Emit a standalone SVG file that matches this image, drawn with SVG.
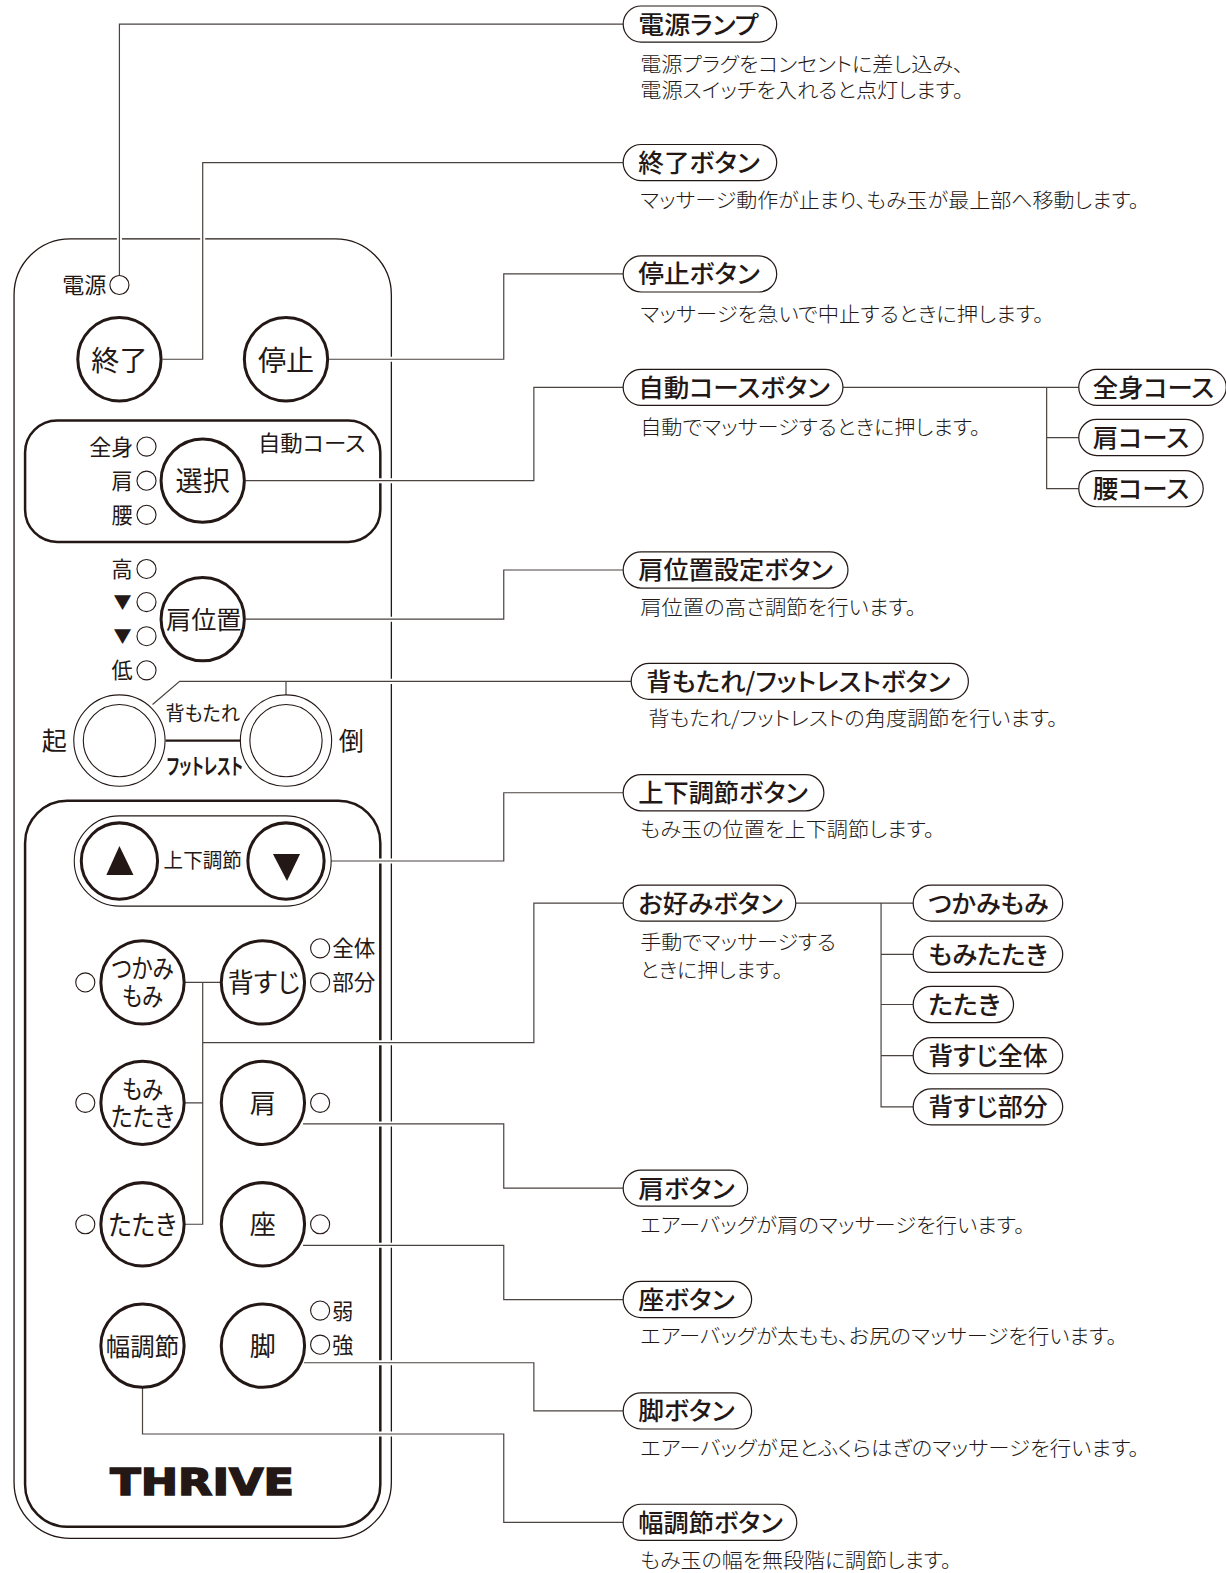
<svg xmlns="http://www.w3.org/2000/svg" width="1226" height="1573" viewBox="0 0 1226 1573">
<style>
text{font-family:"Noto Sans CJK JP","Noto Sans",sans-serif;fill:#231815;dominant-baseline:central;font-feature-settings:"palt";transform:translateY(-1px)}
.m{text-anchor:middle}
.p{font-size:25px;font-weight:500;transform:translateY(-1.5px)}
.d{font-size:20px;font-weight:300}
.s{font-size:21px}
.b{font-size:28px;text-anchor:middle}
.t{font-size:18px;text-anchor:middle}
.c{fill:none;stroke:#4a4340;stroke-width:1.2}
.gap{fill:none;stroke:#fff;stroke-width:5}
.pill{fill:#fff;stroke:#231815;stroke-width:1.2}
.btn{fill:#fff;stroke:#231815;stroke-width:3}
.led{fill:#fff;stroke:#231815;stroke-width:1.1}
.ring{fill:#fff;stroke:#231815;stroke-width:1.1}
.panel{fill:none;stroke:#231815;stroke-width:2.5}
</style>
<g transform="scale(1.0035)">
<g id="remote-body">
<rect x="14" y="238" width="376" height="1295" rx="56" fill="#fff" stroke="#231815" stroke-width="1.3"/>
<rect class="panel" x="25" y="419" width="354" height="121" rx="32"/>
<rect class="panel" x="25" y="798" width="354" height="723.5" rx="42"/>
</g>
<g id="connectors">
<path class="gap" d="M375 479H394M386 358H394M386 617H394M386 679H394M375 858H394M375 1039H394M375 1120H394M375 1241H394M375 1358H394M375 1429H394M119 234V242M202 234V242"/>
<path class="c" d="M119 274V24H621"/>
<path class="c" d="M162 358H202V162H621"/>
<path class="c" d="M328 358H502V273H621"/>
<path class="c" d="M245 479H532V386H621"/>
<path class="c" d="M840 386H1075M1043 386V487H1075M1043 436H1075"/>
<path class="c" d="M245 617H502V568H621"/>
<path class="c" d="M152 702L179 679H629M285 679V693"/>
<path class="c" d="M330 858H502V790H621"/>
<path class="c" d="M184 979H220M202 979V1220H184M184 1099H202M202 1039H532V900H621"/>
<path class="c" d="M793 900H910M878 900V1103H910M878 951H910M878 1001H910M878 1052H910"/>
<path class="c" d="M302 1120H502V1184H621"/>
<path class="c" d="M302 1241H502V1295H621"/>
<path class="c" d="M303 1358H532V1406H621"/>
<path class="c" d="M142 1383V1429H502V1517H621"/>
</g>
<g id="led-power"><text class="s" x="62" y="284" textLength="44" lengthAdjust="spacingAndGlyphs">電源</text><circle class="led" cx="119" cy="284" r="9.5"/></g>
<g id="btn-end"><circle class="btn" cx="119" cy="358" r="41.5"/><text class="b" x="119" y="358" style="font-size:28px">終了</text></g>
<g id="btn-stop"><circle class="btn" cx="285" cy="358" r="41.5"/><text class="b" x="285" y="358" style="font-size:28px">停止</text></g>
<g id="course-select">
<text class="s" x="257" y="441" textLength="107" lengthAdjust="spacingAndGlyphs">自動コース</text>
<text class="s" x="89" y="445" textLength="44" lengthAdjust="spacingAndGlyphs">全身</text><circle class="led" cx="146" cy="445" r="9.5"/>
<text class="s" x="111" y="479">肩</text><circle class="led" cx="146" cy="479" r="9.5"/>
<text class="s" x="111" y="513">腰</text><circle class="led" cx="146" cy="513" r="9.5"/>
<circle class="btn" cx="202" cy="479" r="41.5"/><text class="b" x="202" y="479" style="font-size:27px">選択</text>
</g>
<g id="shoulder-pos">
<text class="s" x="111" y="567">高</text><circle class="led" cx="146" cy="567" r="9.5"/>
<text class="t" x="122" y="600">▼</text><circle class="led" cx="146" cy="600" r="9.5"/>
<text class="t" x="122" y="634">▼</text><circle class="led" cx="146" cy="634" r="9.5"/>
<text class="s" x="111" y="668">低</text><circle class="led" cx="146" cy="668" r="9.5"/>
<circle class="btn" cx="202" cy="617" r="41.5"/><text class="b" x="203" y="617" style="font-size:25px">肩位置</text>
</g>
<g id="recline">
<text class="b" x="54" y="737" style="font-size:25px">起</text>
<text class="b" x="350" y="737" style="font-size:25px">倒</text>
<circle class="ring" cx="119" cy="738" r="45.5"/><circle class="ring" cx="119" cy="738" r="36"/>
<circle class="ring" cx="285" cy="738" r="45.5"/><circle class="ring" cx="285" cy="738" r="36"/>
<path d="M165 738H240" stroke="#231815" stroke-width="2.2" fill="none"/>
<text class="m" x="202" y="711" style="font-size:20px" textLength="74" lengthAdjust="spacingAndGlyphs">背もたれ</text>
<text class="m" x="204" y="762" style="font-size:22px;font-weight:700" textLength="76" lengthAdjust="spacingAndGlyphs">フットレスト</text>
</g>
<g id="updown">
<rect class="ring" x="74" y="813" width="256" height="90" rx="45"/>
<circle cx="119" cy="858" r="38" fill="#fff" stroke="#231815" stroke-width="3"/>
<circle cx="285" cy="858" r="38" fill="#fff" stroke="#231815" stroke-width="3"/>
<path d="M119 843L133 872H106Z" fill="#231815"/>
<path d="M272 851H299L286 878Z" fill="#231815"/>
<text class="m" x="202" y="858" style="font-size:20px" textLength="78" lengthAdjust="spacingAndGlyphs">上下調節</text>
</g>
<g id="btn-tsukami"><circle class="led" cx="85" cy="979" r="9.5"/><circle class="btn" cx="142" cy="979" r="41.5"/><text class="b" style="font-size:26px"><tspan x="142" y="965" textLength="62" lengthAdjust="spacingAndGlyphs">つかみ</tspan><tspan x="142" y="993" textLength="41" lengthAdjust="spacingAndGlyphs">もみ</tspan></text></g>
<g id="btn-senaka"><circle class="btn" cx="262" cy="979" r="41.5"/><text class="b" x="263" y="979" style="font-size:26px" textLength="72" lengthAdjust="spacingAndGlyphs">背すじ</text><circle class="led" cx="319" cy="945" r="9.5"/><circle class="led" cx="319" cy="979" r="9.5"/><text class="s" x="331" y="945" textLength="43" lengthAdjust="spacingAndGlyphs">全体</text><text class="s" x="331" y="979" textLength="43" lengthAdjust="spacingAndGlyphs">部分</text></g>
<g id="btn-momi"><circle class="led" cx="85" cy="1099" r="9.5"/><circle class="btn" cx="142" cy="1099" r="41.5"/><text class="b" style="font-size:26px"><tspan x="142" y="1085" textLength="41" lengthAdjust="spacingAndGlyphs">もみ</tspan><tspan x="142" y="1112" textLength="63" lengthAdjust="spacingAndGlyphs">たたき</tspan></text></g>
<g id="btn-kata"><circle class="btn" cx="262" cy="1099" r="41.5"/><text class="b" x="262" y="1099" style="font-size:26px">肩</text><circle class="led" cx="319" cy="1099" r="9.5"/></g>
<g id="btn-tataki"><circle class="led" cx="85" cy="1220" r="9.5"/><circle class="btn" cx="142" cy="1220" r="41.5"/><text class="b" x="142" y="1220" style="font-size:27px" textLength="68" lengthAdjust="spacingAndGlyphs">たたき</text></g>
<g id="btn-za"><circle class="btn" cx="262" cy="1220" r="41.5"/><text class="b" x="262" y="1220" style="font-size:26px">座</text><circle class="led" cx="319" cy="1220" r="9.5"/></g>
<g id="btn-haba"><circle class="btn" cx="142" cy="1341" r="41.5"/><text class="b" x="142" y="1341" style="font-size:25px" textLength="73" lengthAdjust="spacingAndGlyphs">幅調節</text></g>
<g id="btn-kyaku"><circle class="btn" cx="262" cy="1341" r="41.5"/><text class="b" x="262" y="1341" style="font-size:26px">脚</text><circle class="led" cx="319" cy="1306" r="9.5"/><circle class="led" cx="319" cy="1340" r="9.5"/><text class="s" x="331" y="1306">弱</text><text class="s" x="331" y="1340">強</text></g>
<g id="brand"><text x="110" y="1478" style="font-family:'DejaVu Sans',sans-serif;font-size:37px;font-weight:700;stroke:#231815;stroke-width:1.6" textLength="183" lengthAdjust="spacingAndGlyphs">THRIVE</text></g>
<g id="n1"><rect class="pill" x="621" y="6" width="153" height="36" rx="18"/><text class="p" x="636" y="24" textLength="120" lengthAdjust="spacingAndGlyphs">電源ランプ</text><text class="d" x="638" y="64" textLength="322" lengthAdjust="spacingAndGlyphs">電源プラグをコンセントに差し込み、</text><text class="d" x="638" y="90" textLength="322" lengthAdjust="spacingAndGlyphs">電源スイッチを入れると点灯します。</text></g>
<g id="n2"><rect class="pill" x="621" y="144" width="153" height="36" rx="18"/><text class="p" x="636" y="162" textLength="121" lengthAdjust="spacingAndGlyphs">終了ボタン</text><text class="d" x="638" y="200" textLength="497" lengthAdjust="spacingAndGlyphs">マッサージ動作が止まり、もみ玉が最上部へ移動します。</text></g>
<g id="n3"><rect class="pill" x="621" y="255" width="153" height="36" rx="18"/><text class="p" x="636" y="273" textLength="121" lengthAdjust="spacingAndGlyphs">停止ボタン</text><text class="d" x="638" y="313" textLength="402" lengthAdjust="spacingAndGlyphs">マッサージを急いで中止するときに押します。</text></g>
<g id="n4"><rect class="pill" x="621" y="368" width="219" height="36" rx="18"/><text class="p" x="636" y="386" textLength="191" lengthAdjust="spacingAndGlyphs">自動コースボタン</text><text class="d" x="638" y="426" textLength="339" lengthAdjust="spacingAndGlyphs">自動でマッサージするときに押します。</text></g>
<g id="n4a"><rect class="pill" x="1075" y="368" width="147" height="36" rx="18"/><text class="p" x="1089" y="386" textLength="121" lengthAdjust="spacingAndGlyphs">全身コース</text></g>
<g id="n4b"><rect class="pill" x="1075" y="418" width="124" height="36" rx="18"/><text class="p" x="1089" y="436" textLength="96" lengthAdjust="spacingAndGlyphs">肩コース</text></g>
<g id="n4c"><rect class="pill" x="1075" y="469" width="124" height="36" rx="18"/><text class="p" x="1089" y="487" textLength="96" lengthAdjust="spacingAndGlyphs">腰コース</text></g>
<g id="n5"><rect class="pill" x="621" y="550" width="224" height="36" rx="18"/><text class="p" x="636" y="568" textLength="194" lengthAdjust="spacingAndGlyphs">肩位置設定ボタン</text><text class="d" x="638" y="605" textLength="275" lengthAdjust="spacingAndGlyphs">肩位置の高さ調節を行います。</text></g>
<g id="n6"><rect class="pill" x="629" y="661" width="336" height="36" rx="18"/><text class="p" x="644" y="679" textLength="303" lengthAdjust="spacingAndGlyphs">背もたれ/フットレストボタン</text><text class="d" x="646" y="716" textLength="408" lengthAdjust="spacingAndGlyphs">背もたれ/フットレストの角度調節を行います。</text></g>
<g id="n7"><rect class="pill" x="621" y="772" width="200" height="36" rx="18"/><text class="p" x="636" y="790" textLength="169" lengthAdjust="spacingAndGlyphs">上下調節ボタン</text><text class="d" x="638" y="827" textLength="293" lengthAdjust="spacingAndGlyphs">もみ玉の位置を上下調節します。</text></g>
<g id="n8"><rect class="pill" x="621" y="882" width="172" height="36" rx="18"/><text class="p" x="636" y="900" textLength="144" lengthAdjust="spacingAndGlyphs">お好みボタン</text><text class="d" x="638" y="939" textLength="195" lengthAdjust="spacingAndGlyphs">手動でマッサージする</text><text class="d" x="638" y="967" textLength="142" lengthAdjust="spacingAndGlyphs">ときに押します。</text></g>
<g id="n8a"><rect class="pill" x="910" y="882" width="149" height="36" rx="18"/><text class="p" x="925" y="900" textLength="120" lengthAdjust="spacingAndGlyphs">つかみもみ</text></g>
<g id="n8b"><rect class="pill" x="910" y="933" width="149" height="36" rx="18"/><text class="p" x="925" y="951" textLength="119" lengthAdjust="spacingAndGlyphs">もみたたき</text></g>
<g id="n8c"><rect class="pill" x="910" y="983" width="100" height="36" rx="18"/><text class="p" x="925" y="1001" textLength="72" lengthAdjust="spacingAndGlyphs">たたき</text></g>
<g id="n8d"><rect class="pill" x="910" y="1034" width="149" height="36" rx="18"/><text class="p" x="925" y="1052" textLength="119" lengthAdjust="spacingAndGlyphs">背すじ全体</text></g>
<g id="n8e"><rect class="pill" x="910" y="1085" width="149" height="36" rx="18"/><text class="p" x="925" y="1103" textLength="119" lengthAdjust="spacingAndGlyphs">背すじ部分</text></g>
<g id="n9"><rect class="pill" x="621" y="1166" width="124" height="36" rx="18"/><text class="p" x="636" y="1184" textLength="96" lengthAdjust="spacingAndGlyphs">肩ボタン</text><text class="d" x="638" y="1221" textLength="383" lengthAdjust="spacingAndGlyphs">エアーバッグが肩のマッサージを行います。</text></g>
<g id="n10"><rect class="pill" x="621" y="1277" width="128" height="36" rx="18"/><text class="p" x="636" y="1295" textLength="96" lengthAdjust="spacingAndGlyphs">座ボタン</text><text class="d" x="638" y="1332" textLength="475" lengthAdjust="spacingAndGlyphs">エアーバッグが太もも、お尻のマッサージを行います。</text></g>
<g id="n11"><rect class="pill" x="621" y="1388" width="128" height="36" rx="18"/><text class="p" x="636" y="1406" textLength="96" lengthAdjust="spacingAndGlyphs">脚ボタン</text><text class="d" x="638" y="1443" textLength="497" lengthAdjust="spacingAndGlyphs">エアーバッグが足とふくらはぎのマッサージを行います。</text></g>
<g id="n12"><rect class="pill" x="621" y="1499" width="173" height="36" rx="18"/><text class="p" x="636" y="1517" textLength="144" lengthAdjust="spacingAndGlyphs">幅調節ボタン</text><text class="d" x="638" y="1555" textLength="310" lengthAdjust="spacingAndGlyphs">もみ玉の幅を無段階に調節します。</text></g>
</g>
</svg>
